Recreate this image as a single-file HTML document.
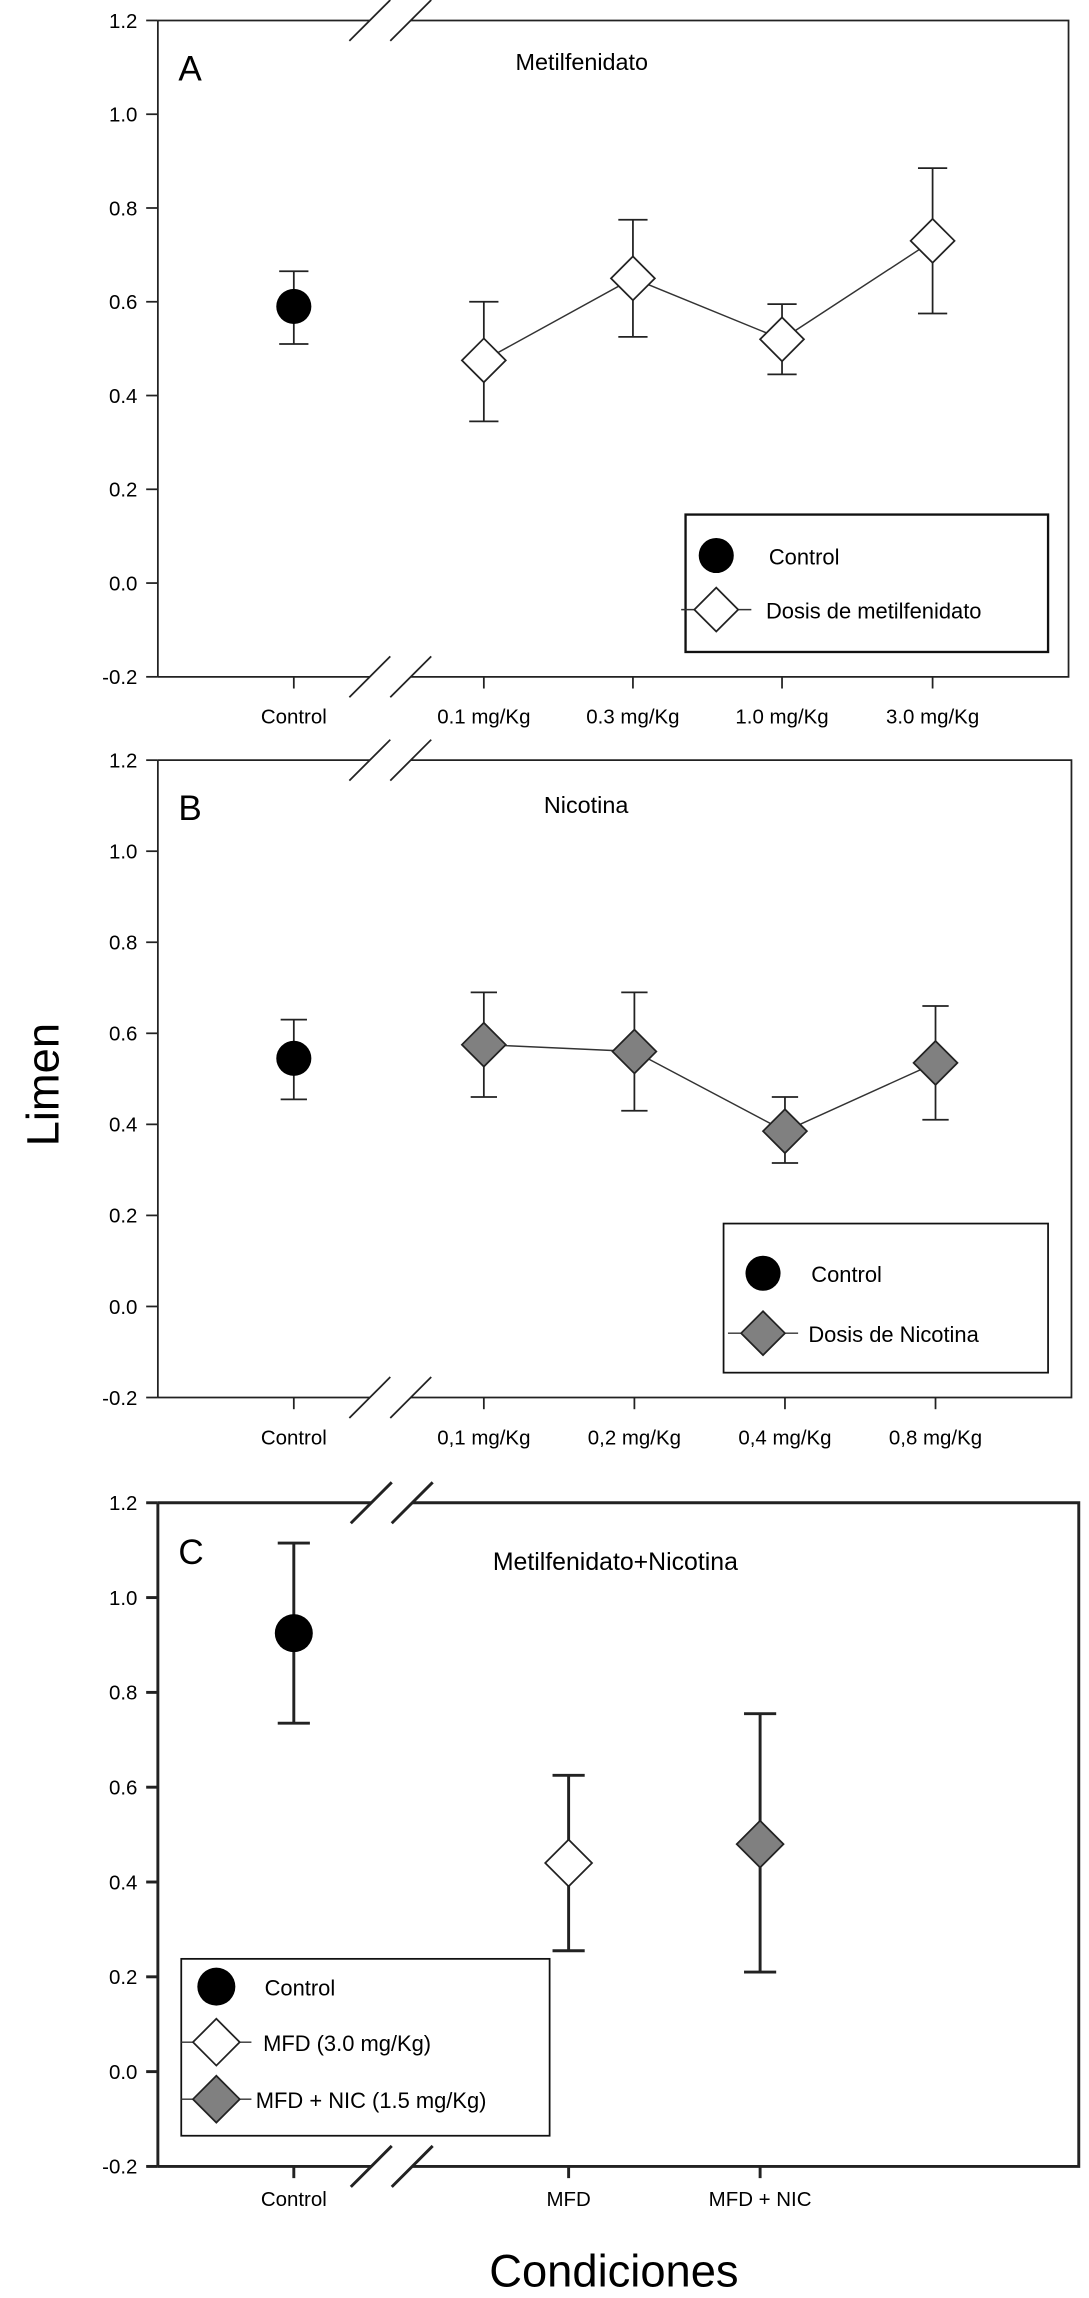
<!DOCTYPE html>
<html><head><meta charset="utf-8"><style>
html,body{margin:0;padding:0;background:#fff;}
svg{display:block;}
text{font-family:"Liberation Sans",Arial,sans-serif;fill:#000;}
</style></head><body>
<svg id="fig" width="1089" height="2298" viewBox="0 0 745 1572" preserveAspectRatio="none" xmlns="http://www.w3.org/2000/svg">
<text x="0" y="0" font-size="31" text-anchor="middle" transform="translate(40,742) rotate(-90)">Limen</text>
<text x="420" y="1564" font-size="31" text-anchor="middle">Condiciones</text>
</svg>
<script>
// Panel A data
const catsA = ["Control","0.1 mg/Kg","0.3 mg/Kg","1.0 mg/Kg","3.0 mg/Kg"];
const meanA = [0.59,0.475,0.65,0.52,0.73];
const upA = [0.665,0.60,0.775,0.595,0.885];
const loA = [0.51,0.345,0.525,0.445,0.575];
// Panel B data
const catsB = ["Control","0,1 mg/Kg","0,2 mg/Kg","0,4 mg/Kg","0,8 mg/Kg"];
const meanB = [0.545,0.575,0.56,0.385,0.535];
const upB = [0.63,0.69,0.69,0.46,0.66];
const loB = [0.455,0.46,0.43,0.315,0.41];
// Panel C data
const catsC = ["Control","MFD","MFD + NIC"];
const meanC = [0.925,0.44,0.48];
const upC = [1.115,0.625,0.755];
const loC = [0.735,0.255,0.21];
const yTicks = ["-0.2","0.0","0.2","0.4","0.6","0.8","1.0","1.2"];

const NS="http://www.w3.org/2000/svg";
const svg=document.getElementById('fig');
function mk(tag,attrs,parent){const e=document.createElementNS(NS,tag);for(const k in attrs)e.setAttribute(k,attrs[k]);(parent||svg).appendChild(e);return e;}

function panel(cfg){
  const g=mk('g',{});
  
  
  const y=v=>cfg.bottom-(v+0.2)/1.4*(cfg.bottom-cfg.top);
  const x=i=>cfg.xs[i];
  const sw=cfg.thick?2:1.2;
  const fr=mk('path',{d:`M${cfg.left},${cfg.top} H${cfg.breakA} M${cfg.breakB},${cfg.top} H${cfg.right} V${cfg.bottom} H${cfg.breakB} M${cfg.breakA},${cfg.bottom} H${cfg.left} Z`,fill:'none',stroke:'#222','stroke-width':sw},g);
  
  
  mk('line',{x1:cfg.left,y1:cfg.top,x2:cfg.left,y2:cfg.bottom,stroke:'#222','stroke-width':sw},g);
  [cfg.top,cfg.bottom].forEach(yy=>{
    [cfg.breakA,cfg.breakB].forEach(bx=>{
      const l=mk('line',{x1:bx-14,y1:yy+14,x2:bx+14,y2:yy-14,stroke:'#222','stroke-width':sw},g);
      
      
    });
  });
  yTicks.forEach(t=>{
    const v=parseFloat(t);const yy=y(v);
    mk('line',{x1:cfg.left-8,y1:yy,x2:cfg.left,y2:yy,stroke:'#222','stroke-width':sw},g);
    const tx=mk('text',{x:cfg.left-14,y:yy+5,'font-size':14,'text-anchor':'end'},g);
    tx.textContent=t;
    
    
  });
  cfg.cats.forEach((c,i)=>{
    mk('line',{x1:x(i),y1:cfg.bottom,x2:x(i),y2:cfg.bottom+8,stroke:'#222','stroke-width':sw},g);
    const tx=mk('text',{x:x(i),y:cfg.bottom+cfg.labDy,'font-size':14,'text-anchor':'middle'},g);
    tx.textContent=c;
    
    
  });
  const lt=mk('text',{x:cfg.left+14,y:cfg.top+cfg.letterDy,'font-size':24},g);lt.textContent=cfg.letter;
  
  
  const tt=mk('text',{x:cfg.titleX,y:cfg.top+cfg.titleDy,'font-size':cfg.titleSize,'text-anchor':'middle'},g);tt.textContent=cfg.title;
  
  
  if(cfg.connect){
    const pts=cfg.mean.slice(1).map((m,j)=>`${x(j+1)},${y(m)}`).join(' ');
    const pl=mk('polyline',{points:pts,fill:'none',stroke:'#333','stroke-width':1},g);
    
    
  }
  cfg.mean.forEach((m,i)=>{
    const cw=cfg.cap;
    const eb=mk('path',{d:`M${x(i)},${y(cfg.lo[i])} V${y(cfg.up[i])} M${x(i)-cw},${y(cfg.up[i])} H${x(i)+cw} M${x(i)-cw},${y(cfg.lo[i])} H${x(i)+cw}`,stroke:'#222','stroke-width':sw,fill:'none'},g);
    
    
    const kind=cfg.kinds[i];
    let mkr;
    if(kind==='circle'){
      mkr=mk('circle',{cx:x(i),cy:y(m),r:cfg.r,fill:'#000'},g);
    }else{
      const h=cfg.d;
      mkr=mk('polygon',{points:`${x(i)},${y(m)-h} ${x(i)+h},${y(m)} ${x(i)},${y(m)+h} ${x(i)-h},${y(m)}`,fill:kind==='grey'?'#808080':'#fff',stroke:'#222','stroke-width':1.2},g);
    }
    
    
  });
  const L=cfg.legend;
  const lr=mk('rect',{x:L.x,y:L.y,width:L.w,height:L.h,fill:'#fff',stroke:'#111','stroke-width':L.sw},g);
  
  
  L.items.forEach(it=>{
    if(it.kind==='circle'){
      mk('circle',{cx:L.mx,cy:it.y,r:cfg.r,fill:'#000'},g);
    }else{
      const h=cfg.d;
      mk('line',{x1:L.mx-24,y1:it.y,x2:L.mx+24,y2:it.y,stroke:'#333','stroke-width':1},g);
      mk('polygon',{points:`${L.mx},${it.y-h} ${L.mx+h},${it.y} ${L.mx},${it.y+h} ${L.mx-h},${it.y}`,fill:it.kind==='grey'?'#808080':'#fff',stroke:'#222','stroke-width':1.2},g);
    }
    const t=mk('text',{x:it.tx,y:it.y+6,'font-size':15},g);t.textContent=it.label;
    
    
  });
}

panel({name:'panel-a',letter:'A',title:'Metilfenidato',titleX:398,titleDy:34,titleSize:16,letterDy:41,labDy:32,
  left:108,right:731,top:14,bottom:463,breakA:253,breakB:281,
  xs:[201,331,433,535,638],cats:catsA,mean:meanA,up:upA,lo:loA,
  kinds:['circle','white','white','white','white'],connect:true,r:12,d:15,cap:10,
  legend:{x:469,y:352,w:248,h:94,sw:1.6,mx:490,items:[{kind:'circle',y:380,tx:526,label:'Control'},{kind:'white',y:417,tx:524,label:'Dosis de metilfenidato'}]}});
panel({name:'panel-b',letter:'B',title:'Nicotina',titleX:401,titleDy:36,titleSize:16,letterDy:41,labDy:32,
  left:108,right:733,top:520,bottom:956,breakA:253,breakB:281,
  xs:[201,331,434,537,640],cats:catsB,mean:meanB,up:upB,lo:loB,
  kinds:['circle','grey','grey','grey','grey'],connect:true,r:12,d:15,cap:9,
  legend:{x:495,y:837,w:222,h:102,sw:1.2,mx:522,items:[{kind:'circle',y:871,tx:555,label:'Control'},{kind:'grey',y:912,tx:553,label:'Dosis de Nicotina'}]}});
panel({name:'panel-c',letter:'C',title:'Metilfenidato+Nicotina',titleX:421,titleDy:46,titleSize:17,letterDy:42,labDy:27,thick:true,
  left:108,right:738,top:1028,bottom:1482,breakA:254,breakB:282,
  xs:[201,389,520],cats:catsC,mean:meanC,up:upC,lo:loC,
  kinds:['circle','white','grey'],connect:false,r:13,d:16,cap:11,
  legend:{x:124,y:1340,w:252,h:121,sw:1.2,mx:148,items:[{kind:'circle',y:1359,tx:181,label:'Control'},{kind:'white',y:1397,tx:180,label:'MFD (3.0 mg/Kg)'},{kind:'grey',y:1436,tx:175,label:'MFD + NIC (1.5 mg/Kg)'}]}});
</script>
</body></html>
